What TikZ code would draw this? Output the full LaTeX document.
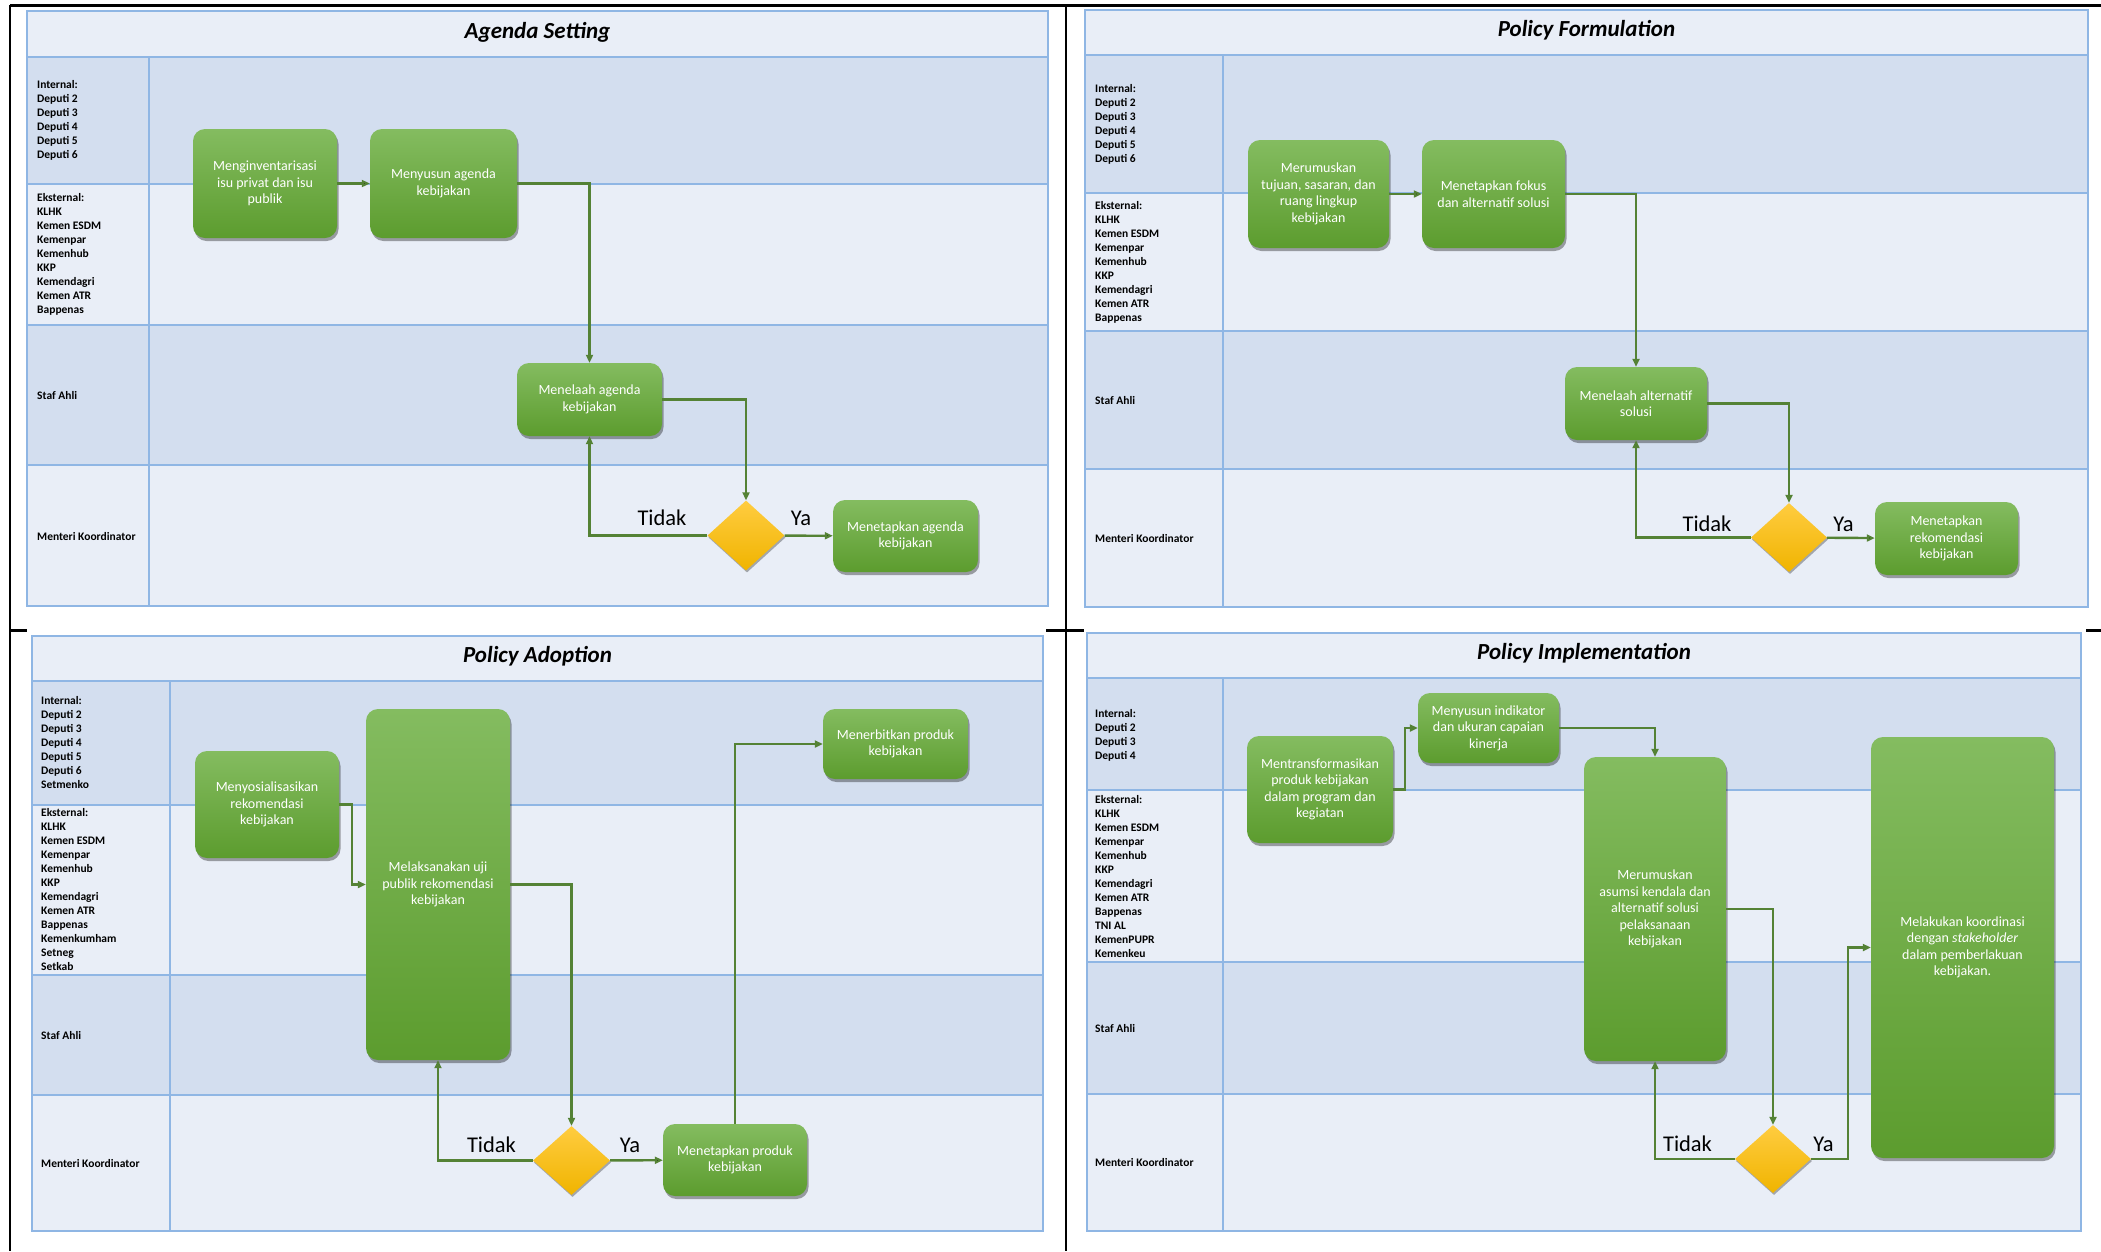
\documentclass[tikz,border=0pt]{standalone}
\usepackage{fontspec}
\setmainfont{Carlito}
\usepackage{tikz}
\usetikzlibrary{arrows.meta,shapes.geometric,shadows}

\definecolor{lanedark}{HTML}{D3DEEF}
\definecolor{lanelight}{HTML}{E9EEF7}
\definecolor{laneborder}{HTML}{8FB6E4}
\definecolor{boxtop}{HTML}{84BC60}
\definecolor{boxbottom}{HTML}{5C9C2E}
\definecolor{flowgreen}{HTML}{548235}
\definecolor{dectop}{HTML}{FFCC40}
\definecolor{decbottom}{HTML}{F0B400}

\tikzset{
  stepbox/.style={rectangle, rounded corners=12pt, top color=boxtop, bottom color=boxbottom,
    text=white, align=center, inner sep=0pt, font=\fontsize{14}{16.5}\selectfont,
    drop shadow={shadow xshift=1.5pt, shadow yshift=-3pt, opacity=0.35, fill=black}},
  decision/.style={diamond, top color=dectop, bottom color=decbottom, inner sep=0pt,
    drop shadow={shadow xshift=1pt, shadow yshift=-2pt, opacity=0.3, fill=black}},
  flow/.style={draw=flowgreen, line width=2.4pt, -{Triangle[length=8pt,width=7pt]}},
  lanelabel/.style={anchor=west, align=left, inner sep=0pt, font=\fontsize{11.5}{14}\selectfont\bfseries},
  paneltitle/.style={font=\fontsize{23}{27}\selectfont\bfseries\itshape},
  answer/.style={anchor=base, inner sep=0pt, font=\fontsize{22.5}{26}\selectfont},
  laneline/.style={draw=laneborder, line width=2pt},
  frameline/.style={draw=black, line width=2.5pt}
}

\begin{document}
\begin{tikzpicture}[x=1pt, y=-1pt]
  \useasboundingbox (0,0) rectangle (2101,1251);

  % frame
  \draw [frameline] (10,5.5) -- (2101,5.5);
  \draw [frameline] (10,4.5) -- (10,1251);
  \draw [frameline] (1066,4.5) -- (1066,1251);
  \draw [frameline] (10,630.5) -- (27,630.5) (1046,630.5) -- (1084,630.5) (2086,630.5) -- (2101,630.5);

  % Agenda Setting
  \fill [lanelight] (27,11) rectangle (1048,606);
  \fill [lanedark] (27,57) rectangle (1048,184);
  \fill [lanedark] (27,325) rectangle (1048,465);
  \draw [laneline] (27,11) rectangle (1048,606) (27,57) -- (1048,57) (27,184) -- (1048,184)
    (27,325) -- (1048,325) (27,465) -- (1048,465) (149,57) -- (149,606);
  \node (astitle) [paneltitle] at (537.5,32) {Agenda Setting};
  \node (asint) [lanelabel] at (37,120.5) {Internal:\\Deputi 2\\Deputi 3\\Deputi 4\\Deputi 5\\Deputi 6};
  \node (aseks) [lanelabel] at (37,254) {Eksternal:\\KLHK\\Kemen ESDM\\Kemenpar\\Kemenhub\\KKP\\Kemendagri\\Kemen ATR\\Bappenas};
  \node (asstaf) [lanelabel] at (37,395) {Staf Ahli};
  \node (asmen) [lanelabel] at (37,536) {Menteri Koordinator};

  \node (as1) [stepbox, minimum width=144pt, minimum height=109pt] at (265,183.5) {Menginventarisasi\\isu privat dan isu\\publik};
  \node (as2) [stepbox, minimum width=147pt, minimum height=109pt] at (443.5,183.5) {Menyusun agenda\\kebijakan};
  \node (as3) [stepbox, minimum width=145pt, minimum height=73pt] at (589.5,399.5) {Menelaah agenda\\kebijakan};
  \node (as4) [decision, minimum width=77pt, minimum height=70pt] at (746,535.5) {};
  \node (as5) [stepbox, minimum width=145pt, minimum height=72pt] at (905.5,536) {Menetapkan agenda\\kebijakan};
  \node (asno) [answer] at (662,525) {Tidak};
  \node (asyes) [answer] at (801,525) {Ya};

  \path [flow] (as1) edge (as2);
  \draw [flow] (as2.east) -| (as3.north);
  \draw [flow] (as3.east) -| (as4.north);
  \draw [flow] (as4.west) -| (as3.south);
  \path [flow] (as4) edge (as5);

  % Policy Formulation
  \fill [lanelight] (1085,10) rectangle (2088,607);
  \fill [lanedark] (1085,55) rectangle (2088,193);
  \fill [lanedark] (1085,331) rectangle (2088,469);
  \draw [laneline] (1085,10) rectangle (2088,607) (1085,55) -- (2088,55) (1085,193) -- (2088,193)
    (1085,331) -- (2088,331) (1085,469) -- (2088,469) (1223,55) -- (1223,607);
  \node (pftitle) [paneltitle] at (1586.5,30) {Policy Formulation};
  \node (pfint) [lanelabel] at (1095,124) {Internal:\\Deputi 2\\Deputi 3\\Deputi 4\\Deputi 5\\Deputi 6};
  \node (pfeks) [lanelabel] at (1095,262) {Eksternal:\\KLHK\\Kemen ESDM\\Kemenpar\\Kemenhub\\KKP\\Kemendagri\\Kemen ATR\\Bappenas};
  \node (pfstaf) [lanelabel] at (1095,400) {Staf Ahli};
  \node (pfmen) [lanelabel] at (1095,538) {Menteri Koordinator};

  \node (pf1) [stepbox, minimum width=141pt, minimum height=108pt] at (1318.5,194) {Merumuskan\\tujuan, sasaran, dan\\ruang lingkup\\kebijakan};
  \node (pf2) [stepbox, minimum width=143pt, minimum height=108pt] at (1493.5,194) {Menetapkan fokus\\dan alternatif solusi};
  \node (pf3) [stepbox, minimum width=142pt, minimum height=73pt] at (1636,403.5) {Menelaah alternatif\\solusi};
  \node (pf4) [decision, minimum width=76pt, minimum height=69pt] at (1789,537.5) {};
  \node (pf5) [stepbox, minimum width=143pt, minimum height=73pt] at (1946.5,538.5) {Menetapkan\\rekomendasi\\kebijakan};
  \node (pfno) [answer] at (1707,531) {Tidak};
  \node (pfyes) [answer] at (1843.5,531) {Ya};

  \path [flow] (pf1) edge (pf2);
  \draw [flow] (pf2.east) -| (pf3.north);
  \draw [flow] (pf3.east) -| (pf4.north);
  \draw [flow] (pf4.west) -| (pf3.south);
  \path [flow] (pf4) edge (pf5);

  % Policy Adoption
  \fill [lanelight] (32,636) rectangle (1043,1231);
  \fill [lanedark] (32,681) rectangle (1043,805);
  \fill [lanedark] (32,975) rectangle (1043,1095);
  \draw [laneline] (32,636) rectangle (1043,1231) (32,681) -- (1043,681) (32,805) -- (1043,805)
    (32,975) -- (1043,975) (32,1095) -- (1043,1095) (170,681) -- (170,1231);
  \node (patitle) [paneltitle] at (537.5,656) {Policy Adoption};
  \node (paint) [lanelabel] at (41,742.5) {Internal:\\Deputi 2\\Deputi 3\\Deputi 4\\Deputi 5\\Deputi 6\\Setmenko};
  \node (paeks) [lanelabel] at (41,889.5) {Eksternal:\\KLHK\\Kemen ESDM\\Kemenpar\\Kemenhub\\KKP\\Kemendagri\\Kemen ATR\\Bappenas\\Kemenkumham\\Setneg\\Setkab};
  \node (pastaf) [lanelabel] at (41,1035) {Staf Ahli};
  \node (pamen) [lanelabel] at (41,1163) {Menteri Koordinator};

  \node (pa1) [stepbox, minimum width=144pt, minimum height=107pt] at (267,804.5) {Menyosialisasikan\\rekomendasi\\kebijakan};
  \node (pa2) [stepbox, minimum width=144pt, minimum height=351pt] at (438,884.5) {Melaksanakan uji\\publik rekomendasi\\kebijakan};
  \node (pa3) [decision, minimum width=77pt, minimum height=69pt] at (571.5,1160.5) {};
  \node (pa4) [stepbox, minimum width=144pt, minimum height=72pt] at (735,1160) {Menetapkan produk\\kebijakan};
  \node (pa5) [stepbox, minimum width=145pt, minimum height=70pt] at (895.5,744) {Menerbitkan produk\\kebijakan};
  \node (pano) [answer] at (491.5,1152) {Tidak};
  \node (payes) [answer] at (630,1152) {Ya};

  \draw [flow] (pa1.east) -- ++(13,0) |- (pa2.west);
  \draw [flow] (pa2.east) -| (pa3.north);
  \draw [flow] (pa3.west) -| (pa2.south);
  \path [flow] (pa3) edge (pa4);
  \draw [flow] (pa4.north) |- (pa5.west);

  % Policy Implementation
  \fill [lanelight] (1087,633) rectangle (2081,1231);
  \fill [lanedark] (1087,678) rectangle (2081,790);
  \fill [lanedark] (1087,962) rectangle (2081,1094);
  \draw [laneline] (1087,633) rectangle (2081,1231) (1087,678) -- (2081,678) (1087,790) -- (2081,790)
    (1087,962) -- (2081,962) (1087,1094) -- (2081,1094) (1223,678) -- (1223,1231);
  \node (pititle) [paneltitle] at (1584,653) {Policy Implementation};
  \node (piint) [lanelabel] at (1095,735) {Internal:\\Deputi 2\\Deputi 3\\Deputi 4};
  \node (pieks) [lanelabel] at (1095,876) {Eksternal:\\KLHK\\Kemen ESDM\\Kemenpar\\Kemenhub\\KKP\\Kemendagri\\Kemen ATR\\Bappenas\\TNI AL\\KemenPUPR\\Kemenkeu};
  \node (pistaf) [lanelabel] at (1095,1028) {Staf Ahli};
  \node (pimen) [lanelabel] at (1095,1162.5) {Menteri Koordinator};

  \node (pi1) [stepbox, minimum width=146pt, minimum height=107pt] at (1320,789.5) {Mentransformasikan\\produk kebijakan\\dalam program dan\\kegiatan};
  \node (pi2) [stepbox, minimum width=141pt, minimum height=70pt] at (1488.5,728) {Menyusun indikator\\dan ukuran capaian\\kinerja};
  \node (pi3) [stepbox, minimum width=142pt, minimum height=304pt] at (1655,909) {Merumuskan\\asumsi kendala dan\\alternatif solusi\\pelaksanaan\\kebijakan};
  \node (pi4) [decision, minimum width=76pt, minimum height=68pt] at (1773,1159) {};
  \node (pi5) [stepbox, minimum width=183pt, minimum height=421pt] at (1962.5,947.5) {Melakukan koordinasi\\dengan {\itshape stakeholder}\\dalam pemberlakuan\\kebijakan.};
  \node (pino) [answer] at (1687.5,1151) {Tidak};
  \node (piyes) [answer] at (1823.5,1151) {Ya};

  \draw [flow] (pi1.east) -- ++(12,0) |- (pi2.west);
  \draw [flow] (pi2.east) -| (pi3.north);
  \draw [flow] (pi3.east) -| (pi4.north);
  \draw [flow] (pi4.west) -| (pi3.south);
  \draw [flow] (pi4.east) -- ++(37,0) |- (pi5.west);
\end{tikzpicture}
\end{document}
